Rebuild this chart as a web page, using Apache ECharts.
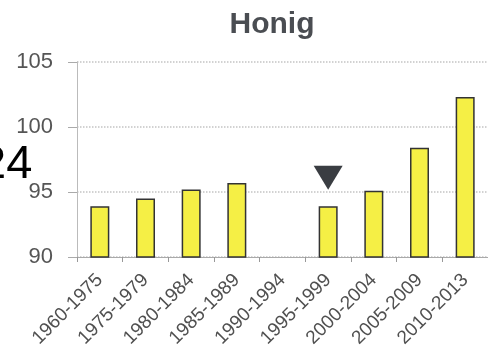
<!DOCTYPE html>
<html>
<head>
<meta charset="utf-8">
<script src="https://cdn.jsdelivr.net/npm/echarts@6/dist/echarts.min.js"></script>
<style>
html, body { margin: 0; padding: 0; background: #fff; }
#chart { width: 488px; height: 357px; }
</style>
</head>
<body>
<div id="chart"></div>
<script>
var categories = ['1960-1975', '1975-1979', '1980-1984', '1985-1989', '1990-1994', '1995-1999', '2000-2004', '2005-2009', '2010-2013'];
var honigValues = [93.9, 94.5, 95.2, 95.7, null, 93.9, 95.1, 98.4, 102.3];
// marker (triangle) above 1995-1999
var markerValues = [null, null, null, null, null, 96.1, null, null, null];
var yTicks = [90, 95, 100, 105];

var font = 'Liberation Sans, Arial, sans-serif';
var chart = echarts.init(document.getElementById('chart'));
chart.setOption({
    animation: false,
    title: {
        text: 'Honig',
        left: 267,
        top: 5,
        textAlign: 'center',
        textStyle: { fontFamily: font, fontSize: 30, fontWeight: 'bold', color: '#4a4d52' }
    },
    graphic: [{
        type: 'text',
        x: -20,
        y: 165,
        style: { text: '24', font: '47px Liberation Sans', fill: '#000', verticalAlign: 'middle' }
    }],
    grid: { left: 77, top: 62, height: 195, width: 420 },
    xAxis: {
        type: 'category',
        data: categories,
        axisLine: { lineStyle: { color: '#aaa' } },
        axisTick: { show: true, length: 5, lineStyle: { color: '#999' } },
        axisLabel: { rotate: 45, fontFamily: font, fontSize: 19, color: '#505050', margin: 20, interval: 0 }
    },
    yAxis: {
        type: 'value',
        min: yTicks[0],
        max: yTicks[yTicks.length - 1],
        interval: 5,
        axisLine: { show: true, lineStyle: { color: '#bbb' } },
        axisTick: { show: true, length: 9, lineStyle: { color: '#aaa' } },
        splitLine: { lineStyle: { color: '#c4c4c4', type: 'dotted', width: 1.5 } },
        axisLabel: { fontFamily: font, fontSize: 22, color: '#555', margin: 24 }
    },
    series: [{
        type: 'bar',
        data: honigValues,
        barWidth: 19,
        itemStyle: { color: '#f5ef45', borderColor: '#333', borderWidth: 1.5 }
    }, {
        type: 'scatter',
        data: markerValues,
        symbol: 'triangle',
        symbolRotate: 180,
        symbolSize: [29, 24],
        itemStyle: { color: '#3a3d42', opacity: 1 }
    }]
});
</script>
</body>
</html>
